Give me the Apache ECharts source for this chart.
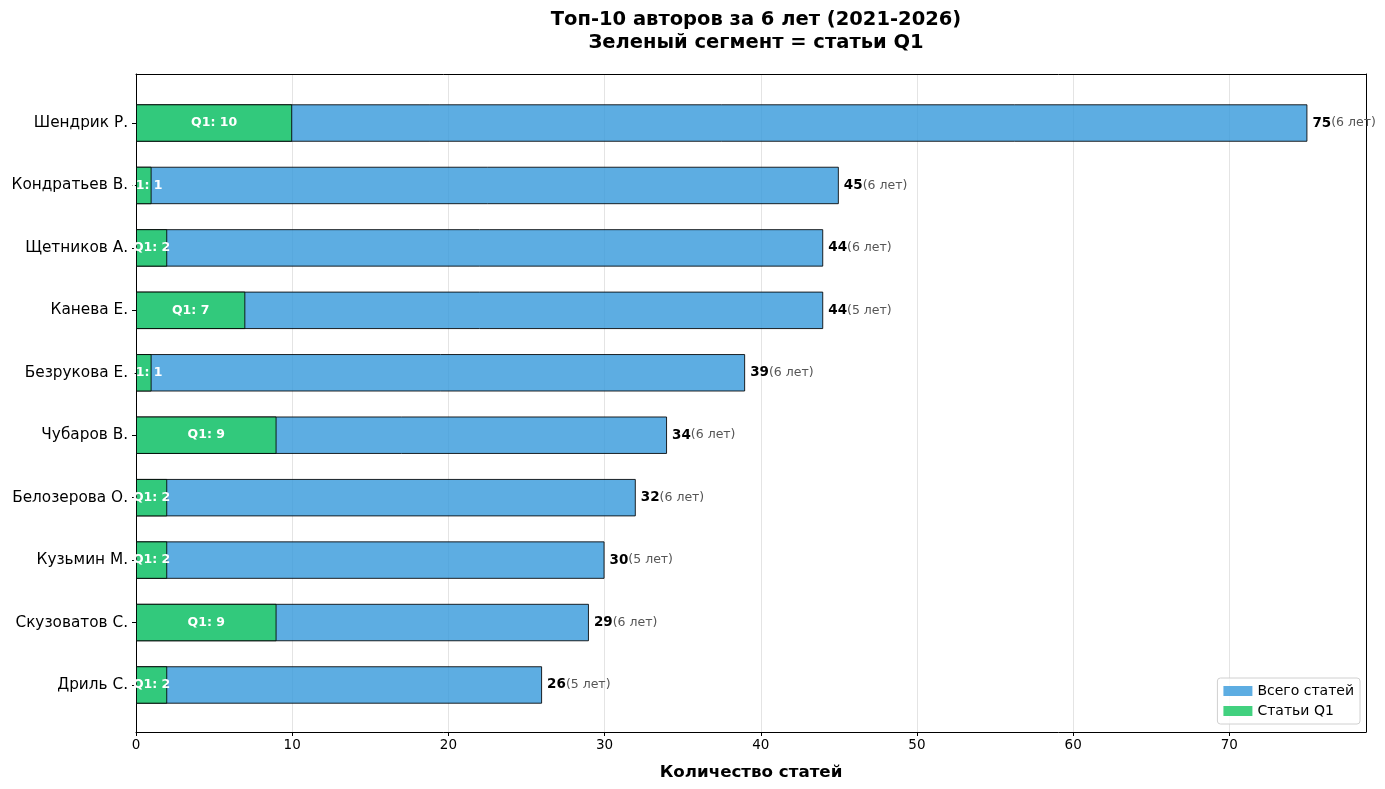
<!DOCTYPE html>
<html><head><meta charset="utf-8">
<script src="https://cdn.jsdelivr.net/npm/echarts@6/dist/echarts.min.js"></script>
<style>html,body{margin:0;padding:0;background:#fff}#c{width:1385px;height:789px}</style>
</head><body><div id="c"></div>
<script>
const authors = ['Шендрик Р.','Кондратьев В.','Щетников А.','Канева Е.','Безрукова Е.','Чубаров В.','Белозерова О.','Кузьмин М.','Скузоватов С.','Дриль С.'];
const totals = [75,45,44,44,39,34,32,30,29,26];
const q1 = [10,1,2,7,1,9,2,2,9,2];
const years = [6,6,6,5,6,6,6,5,6,5];
const xTicks = [0,10,20,30,40,50,60,70];
const xMax = 78.75;
const F = 'DejaVu Sans';

const chart = echarts.init(document.getElementById('c'), null, {renderer:'canvas'});
const frameAxis = () => ({axisLine:{show:true, onZero:false, lineStyle:{color:'#000', width:1}}, axisTick:{show:false}, axisLabel:{show:false}, splitLine:{show:false}});
chart.setOption({
  animation:false,
  textStyle:{fontFamily:F},
  title:{
    text:'Топ-10 авторов за 6 лет (2021-2026)\nЗеленый сегмент = статьи Q1',
    left:751, textAlign:'center', top:3,
    textStyle:{fontFamily:F, fontSize:19.5, fontWeight:'bold', color:'#000', lineHeight:23}
  },
  legend:{
    orient:'vertical', right:25, bottom:65,
    data:['Всего статей','Статьи Q1'],
    itemWidth:29, itemHeight:10, itemGap:6,
    padding:[6,6,6,6],
    borderColor:'#d0d0d0', borderWidth:1, borderRadius:3, backgroundColor:'rgba(255,255,255,0.8)',
    textStyle:{fontFamily:F, fontSize:14, color:'#000'},
    itemStyle:{borderWidth:0},
    icon:'rect'
  },
  grid:[
    {left:136, right:19, top:74, bottom:57},
    {left:136, right:19, top:91.8, bottom:72.8}
  ],
  xAxis:[
    {gridIndex:0, type:'value', min:0, max:xMax, interval:10,
     axisLine:{show:true, onZero:false, lineStyle:{color:'#000'}},
     axisTick:{show:true, length:4, lineStyle:{color:'#000'}, customValues:xTicks},
     axisLabel:{fontFamily:F, fontSize:13.5, color:'#000', margin:6, customValues:xTicks},
     splitLine:{show:true, lineStyle:{color:'#e4e4e4', width:1}},
     name:'Количество статей', nameLocation:'middle', nameGap:32,
     nameTextStyle:{fontFamily:F, fontSize:16.7, fontWeight:'bold', color:'#000'}},
    Object.assign({gridIndex:0, type:'value', min:0, max:xMax, position:'top'}, frameAxis()),
    {gridIndex:1, type:'value', min:0, max:xMax, show:false, splitLine:{show:false}}
  ],
  yAxis:[
    Object.assign({gridIndex:0, type:'value', min:0, max:1, position:'left'}, frameAxis()),
    Object.assign({gridIndex:0, type:'value', min:0, max:1, position:'right'}, frameAxis()),
    {gridIndex:1, type:'category', data:authors, inverse:true,
     axisLine:{show:false},
     axisTick:{show:true, alignWithLabel:true, length:4, lineStyle:{color:'#000'}},
     axisLabel:{fontFamily:F, fontSize:15.3, color:'#000', margin:8},
     splitLine:{show:false}}
  ],
  series:[
    {name:'Всего статей', type:'bar', xAxisIndex:2, yAxisIndex:2,
     data:totals, barWidth:'60%', barGap:'-100%',
     itemStyle:{color:'rgba(52,152,219,0.8)', borderColor:'rgba(0,0,0,0.85)', borderWidth:1},
     label:{show:true, position:'right', distance:5,
       formatter:p=>'{a|'+p.value+'}{b|('+years[p.dataIndex]+' лет)}',
       rich:{a:{fontFamily:F, fontSize:13.5, fontWeight:'bold', color:'#000'},
             b:{fontFamily:F, fontSize:12.5, color:'#555'}}}
    },
    {name:'Статьи Q1', type:'bar', xAxisIndex:2, yAxisIndex:2,
     data:q1, barWidth:'60%', barGap:'-100%',
     itemStyle:{color:'rgba(46,204,113,0.9)', borderColor:'rgba(0,0,0,0.85)', borderWidth:1},
     label:{show:true, position:'inside', formatter:p=>'Q1: '+p.value,
       fontFamily:F, fontSize:12.5, fontWeight:'bold', color:'#fff'}
    }
  ]
});
</script></body></html>
